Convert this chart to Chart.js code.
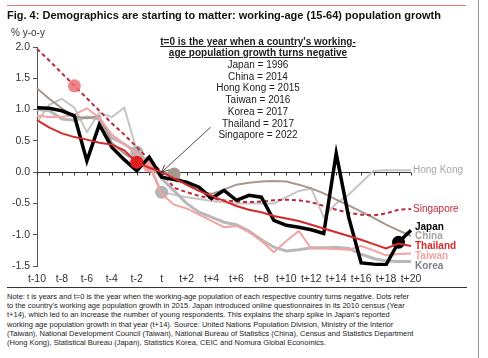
<!DOCTYPE html>
<html>
<head>
<meta charset="utf-8">
<script src="https://cdn.jsdelivr.net/npm/chart.js@4/dist/chart.umd.min.js"></script>
<style>
  html, body { margin: 0; padding: 0; background: #fff; }
  body { width: 488px; height: 358px; position: relative; overflow: hidden; font-family: "Liberation Sans", Arial, sans-serif; color: #222; }
  .abs { position: absolute; white-space: nowrap; }
  #chartBox { position: absolute; left: 0; top: 0; width: 478px; height: 287px; }
  #redRule { left: 7px; top: 5px; width: 459px; height: 1px; background: #e07a7a; }
  #title { left: 7px; top: 8px; font-weight: bold; font-size: 11px; line-height: 14px; color: #111; }
  #unit { left: 11px; top: 27px; font-size: 10px; color: #333; }
  #anno { left: 148px; top: 36px; width: 220px; text-align: center; font-size: 10px; line-height: 11.7px; color: #222; }
  #anno .head { font-weight: bold; font-size: 10px; line-height: 11px; text-decoration: underline; margin-bottom: 1px; }
  #rule { left: 7px; top: 287px; width: 460px; height: 1px; background: #333; }
  #note { left: 7px; top: 292px; font-size: 7.5px; line-height: 9.2px; color: #222; }
  #edge { left: 478px; top: 0; width: 1px; height: 358px; background: #999; }
</style>
</head>
<body>
<div id="chartBox"><canvas id="demoChart"></canvas></div>
<div class="abs" id="redRule"></div>
<div class="abs" id="title">Fig. 4: Demographics are starting to matter: working-age (15-64) population growth</div>
<div class="abs" id="unit">% y-o-y</div>
<div class="abs" id="anno">
  <div class="head">t=0 is the year when a country's working-<br>age population growth turns negative</div>
  Japan = 1996<br>China = 2014<br>Hong Kong = 2015<br>Taiwan = 2016<br>Korea = 2017<br>Thailand = 2017<br>Singapore = 2022
</div>
<div class="abs" id="rule"></div>
<div class="abs" id="note">Note: t is years and t=0 is the year when the working-age population of each respective country turns negative. Dots refer<br>to the country's working age population growth in 2015. Japan introduced online questionnaires in its 2010 census (Year<br>t+14), which led to an increase the number of young respondents. This explains the sharp spike in Japan's reported<br>working age population growth in that year (t+14). Source: United Nations Population Division, Ministry of the Interior<br>(Taiwan), National Development Council (Taiwan), National Bureau of Statistics (China), Census and Statistics Department<br>(Hong Kong), Statistical Bureau (Japan), Statistics Korea, CEIC and Nomura Global Economics.</div>
<div class="abs" id="edge"></div>

<script>
// years relative to t=0
const years = ['t-10','t-9','t-8','t-7','t-6','t-5','t-4','t-3','t-2','t-1','t',
               't+1','t+2','t+3','t+4','t+5','t+6','t+7','t+8','t+9','t+10',
               't+11','t+12','t+13','t+14','t+15','t+16','t+17','t+18','t+19','t+20'];

const yTicks = [-1.5, -1.0, -0.5, 0.0, 0.5, 1.0, 1.5, 2.0];

// working-age population growth, % y-o-y
const japan     = [1.03,1.02,0.98,0.9,0.18,0.76,0.4,0.2,0.02,0.24,-0.08,
                   -0.12,-0.16,-0.24,-0.42,-0.29,-0.45,-0.37,-0.4,-0.77,-0.85,
                   -0.88,-0.92,-0.98,0.3,-0.72,-1.45,-1.47,-1.48,-1.12,-0.93];
const china     = [1.34,1.17,1.02,0.89,0.86,0.9,0.47,0.3,0.17,0.1,0.0,
                   -0.03,-0.2,-0.3,-0.35,-0.28,-0.2,-0.17,-0.15,-0.14,-0.15,
                   -0.2,-0.26,-0.34,-0.44,-0.53,-0.63,-0.73,-0.84,-0.93,-1.02];
const hongKong  = [0.8,1.08,1.17,1.03,0.64,0.95,0.88,1.03,0.35,0.15,-0.32,
                   -0.36,-0.4,-0.43,-0.46,-0.48,-0.5,-0.5,-0.5,-0.5,-0.4,
                   -0.3,-0.26,-0.72,-0.5,-0.36,-0.17,0.02,0.03,0.03,0.03];
const taiwan    = [0.9,0.88,0.88,0.92,1.02,0.87,0.6,0.45,0.3,0.1,-0.35,
                   -0.52,-0.58,-0.68,-0.78,-0.88,-0.86,-0.96,-1.1,-1.28,-1.1,
                   -0.94,-1.22,-1.22,-1.23,-1.24,-1.18,-1.25,-1.33,-1.31,-1.3];
const korea     = [1.0,0.98,0.85,0.83,0.88,0.85,0.55,0.45,0.32,0.15,-0.1,
                   -0.3,-0.5,-0.64,-0.72,-0.8,-0.84,-0.94,-1.08,-1.2,-1.26,
                   -1.24,-1.21,-1.21,-1.2,-1.22,-1.31,-1.38,-1.42,-1.43,-1.43];
const thailand  = [0.83,0.71,0.62,0.56,0.52,0.47,0.44,0.35,0.16,0.07,0.0,
                   -0.1,-0.2,-0.3,-0.38,-0.46,-0.54,-0.6,-0.64,-0.7,-0.74,
                   -0.78,-0.84,-0.9,-0.96,-1.02,-1.08,-1.15,-1.22,-1.14,-1.18];
const singapore = [1.97,1.78,1.58,1.38,1.18,0.98,0.78,0.6,0.4,0.2,0.0,
                   -0.25,-0.32,-0.38,-0.42,-0.45,-0.47,-0.48,-0.47,-0.45,-0.44,
                   -0.45,-0.48,-0.54,-0.6,-0.65,-0.68,-0.69,-0.66,-0.6,-0.59];

// where the 2015 dot sits for each country (index into years)
const dot2015 = { japan: 29, china: 11, hongKong: 10, taiwan: 9, korea: 8, thailand: 8, singapore: 3 };

// end labels on the right
const endLabels = [
    { text: 'Hong Kong', at: 0.03,  color: '#a6a6a6', bold: false },
    { text: 'Singapore', at: -0.6,  color: '#c0283a', bold: false },
    { text: 'Japan',     at: -0.88, color: '#000000', bold: true },
    { text: 'China',     at: -1.03, color: '#a8a29e', bold: true },
    { text: 'Thailand',  at: -1.18, color: '#d42a2a', bold: true },
    { text: 'Taiwan',    at: -1.34, color: '#f4a3a3', bold: true },
    { text: 'Korea',     at: -1.5,  color: '#7f7f7f', bold: true }
];

function series(label, data, color, width, dotIdx, dotColor, extra) {
    return Object.assign({
        label: label,
        data: data,
        borderColor: color,
        borderWidth: width,
        tension: 0,
        fill: false,
        pointRadius: ctx => ctx.dataIndex === dotIdx ? 6.5 : 0,
        pointBackgroundColor: dotColor,
        pointBorderWidth: 0,
        pointHoverRadius: 0
    }, extra || {});
}

const zeroLinePlugin = {
    id: 'zeroLine',
    beforeDatasetsDraw(chart) {
        const { ctx, chartArea, scales: { x, y } } = chart;
        const y0 = Math.round(y.getPixelForValue(0)) + 0.5;
        ctx.save();
        ctx.strokeStyle = '#333';
        ctx.lineWidth = 1;
        ctx.beginPath();
        ctx.moveTo(chartArea.left, y0);
        ctx.lineTo(chartArea.right, y0);
        years.forEach((_, i) => {
            const px = Math.round(x.getPixelForValue(i)) + 0.5;
            ctx.moveTo(px, y0);
            ctx.lineTo(px, y0 + 3);
        });
        ctx.stroke();
        ctx.restore();
    }
};

const labelsPlugin = {
    id: 'endLabels',
    afterDatasetsDraw(chart) {
        const { ctx, chartArea, scales: { x, y } } = chart;
        ctx.save();
        ctx.textBaseline = 'middle';
        ctx.textAlign = 'left';
        endLabels.forEach(l => {
            ctx.font = (l.bold ? 'bold ' : '') + '10px "Liberation Sans", Arial, sans-serif';
            ctx.fillStyle = l.color;
            ctx.fillText(l.text, chartArea.right + (l.bold ? 4 : 2), y.getPixelForValue(l.at));
        });

        // arrow pointing at t=0
        const tipX = x.getPixelForValue(years.indexOf('t'));
        const tipY = y.getPixelForValue(0);
        const tailX = tipX + 49, tailY = tipY - 45;
        const ang = Math.atan2(tipY - tailY, tipX - tailX);
        ctx.strokeStyle = '#222';
        ctx.lineWidth = 0.8;
        ctx.beginPath();
        ctx.moveTo(tailX, tailY);
        ctx.lineTo(tipX, tipY);
        ctx.moveTo(tipX - 8 * Math.cos(ang - 0.45), tipY - 8 * Math.sin(ang - 0.45));
        ctx.lineTo(tipX, tipY);
        ctx.lineTo(tipX - 8 * Math.cos(ang + 0.45), tipY - 8 * Math.sin(ang + 0.45));
        ctx.stroke();
        ctx.restore();
    }
};

const ctx = document.getElementById('demoChart').getContext('2d');

new Chart(ctx, {
    type: 'line',
    data: {
        labels: years,
        datasets: [
            series('Thailand', thailand, '#d42a2a', 2, dot2015.thailand, '#e02020'),
            series('Japan', japan, '#000000', 3.5, dot2015.japan, '#000000'),
            series('Singapore', singapore, '#c0283a', 2, dot2015.singapore, 'rgba(236,110,120,0.85)', { borderDash: [4, 3] }),
            series('Taiwan', taiwan, '#f4a3a3', 2, dot2015.taiwan, '#f4a3a3'),
            series('China', china, '#a8978e', 2, dot2015.china, '#a8978e'),
            series('Korea', korea, '#b8b8b8', 3, dot2015.korea, '#b4b4b4'),
            series('Hong Kong', hongKong, '#c6c6c6', 2, dot2015.hongKong, '#b4b4b4')
        ]
    },
    options: {
        responsive: true,
        maintainAspectRatio: false,
        animation: false,
        layout: { padding: { top: 47, right: 67, left: 0, bottom: 0 } },
        plugins: {
            legend: { display: false },
            tooltip: { enabled: false }
        },
        scales: {
            x: {
                type: 'category',
                offset: false,
                grid: { display: false, drawTicks: false },
                border: { display: false },
                ticks: {
                    autoSkip: false,
                    maxRotation: 0,
                    padding: 7,
                    color: '#333',
                    font: { size: 10.5, family: '"Liberation Sans", Arial, sans-serif' },
                    callback: (v, i) => i % 2 === 0 ? years[i] : ''
                },
                afterFit: s => { s.height = 21; }
            },
            y: {
                min: yTicks[0],
                max: yTicks[yTicks.length - 1],
                afterBuildTicks: s => { s.ticks = yTicks.map(v => ({ value: v })); },
                grid: { drawOnChartArea: false, drawTicks: true, tickLength: 4, color: '#555' },
                border: { color: '#555', width: 1 },
                ticks: {
                    padding: 3,
                    color: '#333',
                    font: { size: 10.5, family: '"Liberation Sans", Arial, sans-serif' },
                    callback: v => v.toFixed(1)
                },
                afterFit: s => { s.width = 37; }
            }
        }
    },
    plugins: [zeroLinePlugin, labelsPlugin]
});
</script>
</body>
</html>
